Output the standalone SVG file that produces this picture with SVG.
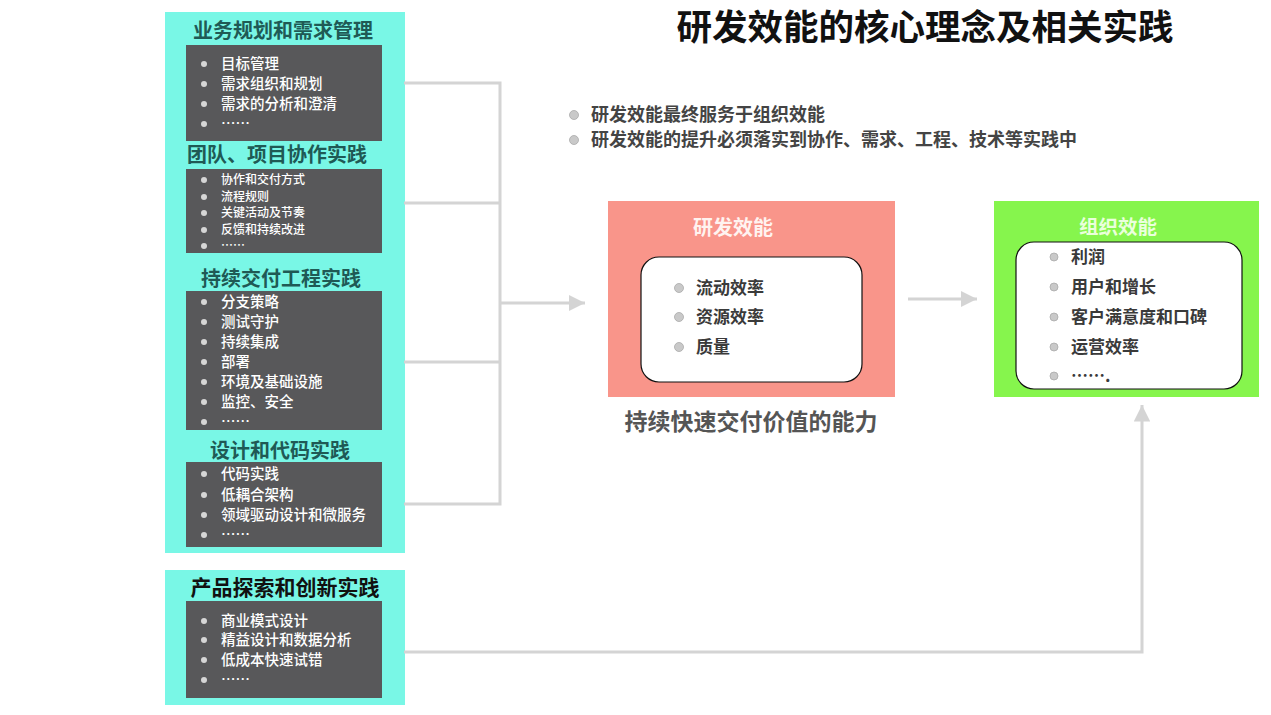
<svg xmlns="http://www.w3.org/2000/svg" width="1271" height="715" viewBox="0 0 1271 715">
<style>
text{font-family:"Noto Sans CJK SC","Liberation Sans",sans-serif;dominant-baseline:central;transform:translateY(-2px)}
.cyan{fill:#79f7e6}
.dark{fill:#58585a}
.ttl{font-size:20px;font-weight:bold;fill:#1f5a55}
.it{font-size:14.5px;fill:#ffffff;font-weight:500}
.its{font-size:12px;fill:#ffffff;font-weight:500}
.db{fill:#d6d6d6}
.conn{stroke:#d4d4d4;stroke-width:3;fill:none}
.inner{fill:#ffffff;stroke:#111;stroke-width:1.2}
.pit{font-size:17px;fill:#3a3a3a;font-weight:bold}
.gb{fill:#c9c9c9;stroke:#aaa;stroke-width:0.8}
.top{font-size:18px;fill:#444;font-weight:bold}
</style>
<defs>
<marker id="ah" viewBox="0 0 10 10" refX="10" refY="5" markerWidth="5.5" markerHeight="5.5" markerUnits="strokeWidth" orient="auto">
<path d="M0,0 L10,5 L0,10 z" fill="#d4d4d4"/>
</marker>
</defs>
<rect width="1271" height="715" fill="#ffffff"/>
<text x="925" y="26" text-anchor="middle" style="font-size:35.5px;font-weight:bold;fill:#111">研发效能的核心理念及相关实践</text>

<g id="intro">
<circle class="gb" cx="574" cy="115" r="4.5"/>
<text class="top" x="591" y="115">研发效能最终服务于组织效能</text>
<circle class="gb" cx="574" cy="140" r="4.5"/>
<text class="top" x="591" y="140">研发效能的提升必须落实到协作、需求、工程、技术等实践中</text>
</g>

<g id="practices">
<rect class="cyan" x="165" y="12" width="240" height="541"/>
</g>
<g id="biz">
<text class="ttl" x="283" y="31" text-anchor="middle">业务规划和需求管理</text>
<rect class="dark" x="186" y="45" width="196" height="96"/>
<circle class="db" cx="204" cy="64" r="3"/><text class="it" x="221" y="64">目标管理</text>
<circle class="db" cx="204" cy="84" r="3"/><text class="it" x="221" y="84">需求组织和规划</text>
<circle class="db" cx="204" cy="104" r="3"/><text class="it" x="221" y="104">需求的分析和澄清</text>
<circle class="db" cx="204" cy="124" r="3"/><text class="it" x="221" y="124">……</text>
</g>
<g id="team">
<text class="ttl" x="187" y="155">团队、项目协作实践</text>
<rect class="dark" x="186" y="169" width="196" height="84"/>
<circle class="db" cx="204" cy="180" r="3"/><text class="its" x="221" y="180">协作和交付方式</text>
<circle class="db" cx="204" cy="197" r="3"/><text class="its" x="221" y="197">流程规则</text>
<circle class="db" cx="204" cy="213" r="3"/><text class="its" x="221" y="213">关键活动及节奏</text>
<circle class="db" cx="204" cy="230" r="3"/><text class="its" x="221" y="230">反馈和持续改进</text>
<circle class="db" cx="204" cy="246" r="3"/><text class="its" x="221" y="246">……</text>
</g>
<g id="cd">
<text class="ttl" x="281" y="279" text-anchor="middle">持续交付工程实践</text>
<rect class="dark" x="186" y="291" width="196" height="139"/>
<circle class="db" cx="204" cy="302" r="3"/><text class="it" x="221" y="302">分支策略</text>
<circle class="db" cx="204" cy="322" r="3"/><text class="it" x="221" y="322">测试守护</text>
<circle class="db" cx="204" cy="342" r="3"/><text class="it" x="221" y="342">持续集成</text>
<circle class="db" cx="204" cy="362" r="3"/><text class="it" x="221" y="362">部署</text>
<circle class="db" cx="204" cy="382" r="3"/><text class="it" x="221" y="382">环境及基础设施</text>
<circle class="db" cx="204" cy="402" r="3"/><text class="it" x="221" y="402">监控、安全</text>
<circle class="db" cx="204" cy="422" r="3"/><text class="it" x="221" y="422">……</text>
</g>
<g id="design">
<text class="ttl" x="280" y="451" text-anchor="middle">设计和代码实践</text>
<rect class="dark" x="186" y="462" width="196" height="85"/>
<circle class="db" cx="204" cy="474" r="3"/><text class="it" x="221" y="474">代码实践</text>
<circle class="db" cx="204" cy="495" r="3"/><text class="it" x="221" y="495">低耦合架构</text>
<circle class="db" cx="204" cy="515" r="3"/><text class="it" x="221" y="515">领域驱动设计和微服务</text>
<circle class="db" cx="204" cy="535" r="3"/><text class="it" x="221" y="535">……</text>
</g>
<g id="product">
<rect class="cyan" x="165" y="570" width="240" height="135"/>
<text x="285" y="588" text-anchor="middle" style="font-size:21px;font-weight:bold;fill:#111">产品探索和创新实践</text>
<rect class="dark" x="186" y="601" width="196" height="97"/>
<circle class="db" cx="204" cy="621" r="3"/><text class="it" x="221" y="621">商业模式设计</text>
<circle class="db" cx="204" cy="640" r="3"/><text class="it" x="221" y="640">精益设计和数据分析</text>
<circle class="db" cx="204" cy="660" r="3"/><text class="it" x="221" y="660">低成本快速试错</text>
<circle class="db" cx="204" cy="680" r="3"/><text class="it" x="221" y="680">……</text>
</g>

<g id="connectors">
<path class="conn" d="M404,83 H500 M404,203 H500 M404,362 H500 M404,504 H500 M500,81.5 V505.5"/>
<path class="conn" d="M500,303 H585" marker-end="url(#ah)"/>
<path class="conn" d="M908,299 H977" marker-end="url(#ah)"/>
<path class="conn" d="M404,652 H1142 V405" marker-end="url(#ah)"/>
</g>

<g id="rd">
<rect x="608" y="201" width="287" height="196" fill="#f9958a"/>
<text x="733" y="228" text-anchor="middle" style="font-size:20px;font-weight:bold;fill:#fff3f0">研发效能</text>
<rect class="inner" x="641" y="257" width="221" height="125" rx="18"/>
<circle class="gb" cx="679" cy="288" r="4.5"/><text class="pit" x="696" y="288">流动效率</text>
<circle class="gb" cx="679" cy="317" r="4.5"/><text class="pit" x="696" y="317">资源效率</text>
<circle class="gb" cx="679" cy="347" r="4.5"/><text class="pit" x="696" y="347">质量</text>
<text x="751" y="422" text-anchor="middle" style="font-size:23px;font-weight:bold;fill:#555">持续快速交付价值的能力</text>
</g>

<g id="org">
<rect x="994" y="201" width="265" height="196" fill="#86f54d"/>
<text x="1118" y="227" text-anchor="middle" style="font-size:19.5px;font-weight:bold;fill:#eaffdc">组织效能</text>
<rect class="inner" x="1016" y="242" width="226" height="147" rx="18"/>
<circle class="gb" cx="1054" cy="257" r="4"/><text class="pit" x="1071" y="257">利润</text>
<circle class="gb" cx="1054" cy="287" r="4"/><text class="pit" x="1071" y="287">用户和增长</text>
<circle class="gb" cx="1054" cy="317" r="4"/><text class="pit" x="1071" y="317">客户满意度和口碑</text>
<circle class="gb" cx="1054" cy="347" r="4"/><text class="pit" x="1071" y="347">运营效率</text>
<circle class="gb" cx="1054" cy="376" r="4"/><text class="pit" x="1071" y="376">…….</text>
</g>
</svg>
